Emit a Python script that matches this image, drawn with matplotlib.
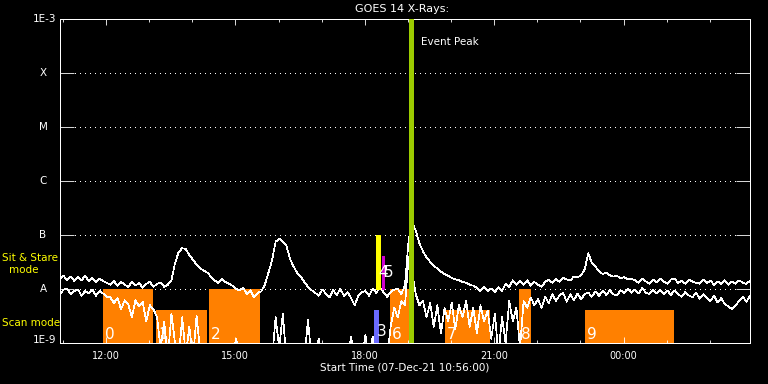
import numpy as np
import matplotlib
matplotlib.use('Agg')
from matplotlib import pyplot as plt
from matplotlib.ticker import FixedLocator, NullLocator

plt.rcParams['font.family'] = 'DejaVu Sans'
plt.rcParams['lines.antialiased'] = False
plt.rcParams['patch.antialiased'] = False

# GOES 14 flux, 5 minute samples from the start time, in units of 1e-8 W/m^2
start_time = '10:56'
long_flux = [
    1.55, 1.75, 1.45, 1.7, 1.4, 1.65, 1.45, 1.75, 1.4, 1.6,
    1.35, 1.55, 1.4, 1.3, 1.2, 1.4, 1.15, 1.35, 1.2, 1.1,
    1.35, 1.15, 1.3, 1.05, 1.25, 1.35, 1.1, 1.25, 1.3, 1.1,
    1.2, 1.45, 3.0, 4.8, 5.7, 5.5, 4.2, 3.5, 2.8, 2.4,
    2.2, 2.0, 1.7, 1.45, 1.3, 1.55, 1.35, 1.25, 1.15, 1.0,
    0.95, 1.05, 0.8, 0.95, 0.7, 0.85, 0.9, 1.2, 2.0, 3.4,
    7.5, 8.5, 7.6, 6.4, 3.6, 2.6, 2.0, 1.7, 1.35, 1.1,
    0.95, 0.85, 0.75, 0.98, 0.82, 0.7, 0.95, 0.78, 1.0, 0.75,
    0.88, 0.68, 0.5, 0.75, 0.88, 0.92, 0.75, 1.0, 0.85, 1.05,
    0.88, 0.72, 0.88, 0.98, 1.0, 0.8, 1.2, 8.0, 17.0, 12.0,
    7.0, 5.0, 3.8, 3.2, 2.7, 2.4, 2.1, 1.9, 1.75, 1.6,
    1.5, 1.45, 1.35, 1.3, 1.2, 1.15, 1.05, 0.92, 1.08, 0.92,
    1.02, 0.88, 1.08, 0.92, 1.25, 1.1, 1.45, 1.2, 1.4, 1.2,
    1.45, 1.15, 1.35, 1.2, 1.1, 1.35, 1.5, 1.3, 1.55, 1.35,
    1.6, 1.5, 1.45, 1.7, 1.65, 1.8, 2.3, 4.6, 3.0, 2.6,
    2.1, 1.9, 2.0, 1.8, 1.7, 1.75, 1.6, 1.65, 1.5, 1.55,
    1.45, 1.3, 1.55, 1.38, 1.25, 1.5, 1.32, 1.55, 1.38, 1.25,
    1.5, 1.55, 1.3, 1.42, 1.25, 1.5, 1.38, 1.3, 1.25, 1.5,
    1.3, 1.42, 1.2, 1.38, 1.25, 1.45, 1.2, 1.38, 1.25, 1.45,
    1.3, 1.25, 1.42]
short_flux = [
    0.78, 0.98, 1.02, 0.8, 0.92, 0.98, 0.75, 0.92, 0.82, 0.98,
    0.75, 0.92, 0.82, 0.72, 0.7, 0.55, 0.68, 0.42, 0.62, 0.52,
    0.3, 0.62, 0.48, 0.58, 0.25, 0.5, 0.42, 0.3, 0.08, 0.25,
    0.05, 0.35, 0.1, 0.05, 0.3, 0.06, 0.2, 0.05, 0.32, 0.07,
    0.05, 0.05, 0.05, 0.05, 0.05, 0.05, 0.05, 0.05, 0.05, 0.12,
    0.05, 0.05, 0.05, 0.05, 0.05, 0.05, 0.05, 0.05, 0.05, 0.05,
    0.3, 0.08, 0.35, 0.05, 0.05, 0.05, 0.05, 0.05, 0.05, 0.27,
    0.05, 0.05, 0.12, 0.05, 0.05, 0.05, 0.05, 0.05, 0.05, 0.05,
    0.05, 0.13, 0.05, 0.05, 0.05, 0.14, 0.05, 0.13, 0.05, 0.05,
    0.05, 0.05, 0.2, 0.45, 0.3, 0.6, 0.5, 4.0, 2.0, 0.8,
    0.5, 0.6, 0.3, 0.55, 0.2, 0.5, 0.15, 0.45, 0.25, 0.55,
    0.18, 0.5, 0.3, 0.6, 0.2, 0.45, 0.15, 0.5, 0.25, 0.4,
    0.12, 0.35, 0.06, 0.3, 0.1, 0.6, 0.25, 0.45, 0.08, 0.6,
    0.45, 0.7, 0.5, 0.65, 0.45, 0.72, 0.55, 0.8, 0.6, 0.76,
    0.85, 0.58, 0.8, 0.62, 0.82, 0.65, 0.8, 0.86, 0.72, 0.9,
    0.75, 0.92, 0.78, 0.95, 0.8, 0.76, 0.95, 0.84, 1.0, 0.85,
    0.98, 0.82, 1.04, 0.86, 0.8, 0.98, 0.82, 0.96, 0.8, 0.94,
    0.78, 0.94, 0.8, 0.72, 0.88, 0.76, 0.7, 0.86, 0.66, 0.8,
    0.68, 0.6, 0.75, 0.56, 0.68, 0.52, 0.48, 0.42, 0.5, 0.6,
    0.72, 0.58, 0.75]

class_labels = ['1E-9', 'A', 'B', 'C', 'M', 'X', '1E-3']
class_levels = [1e-9, 1e-8, 1e-7, 1e-6, 1e-5, 1e-4, 1e-3]

# observations drawn as orange blocks
obs_ids = ['0', '1', '2', '6', '7', '8', '9']
obs_start = ['11:56', '13:10', '14:23', '18:35', '19:52', '21:34', '23:07']
obs_end = ['13:06', '14:20', '15:34', '19:02', '20:54', '21:51', '01:10']
obs_top = [1e-8, 4.1e-9, 1e-8, 1e-8, 4.1e-9, 1e-8, 4.1e-9]

# short observations drawn as coloured lines
short_ids = ['3', '4', '5']
short_time = ['18:15', '18:18', '18:25']
short_bottom = [1e-9, 1e-8, 1e-8]
short_top = [4.1e-9, 1e-7, 4.1e-8]
short_color = ['#6a6aff', '#ffff00', '#d000d0']

peak_time = '19:04'
xtick_labels = ['12:00', '15:00', '18:00', '21:00', '00:00']


def hours(s):
    h, m = s.split(':')
    v = int(h) + int(m) / 60
    if v < 10:
        v += 24
    return v


t0 = hours(start_time)
times = t0 + np.arange(len(long_flux)) / 12

fig = plt.figure(figsize=(7.68, 3.84), dpi=100, facecolor='black')
ax = fig.add_axes([60 / 768, 41 / 384, 690 / 768, 324 / 384], facecolor='black')
ax.set_yscale('log')
ax.set_ylim(1e-9, 1e-3)
ax.set_xlim(t0, t0 + 16)

for s in ax.spines.values():
    s.set_color('white')
    s.set_linewidth(0.6)

# dotted class lines
for lvl in class_levels[1:-1]:
    ax.plot([15 / 690, 676 / 690], [lvl, lvl], transform=ax.get_yaxis_transform(),
            color='white', lw=0.72, linestyle=(0, (1, 5)), zorder=1)

starts = [hours(s) for s in obs_start]
ends = [hours(s) for s in obs_end]
ax.bar(starts, [top - 1e-9 for top in obs_top], width=[e - s for s, e in zip(starts, ends)],
       bottom=1e-9, align='edge', color='#ff8000', zorder=1)

ax.plot(times, np.array(long_flux) * 1e-8, color='white', lw=0.5, zorder=2)
ax.plot(times, np.array(short_flux) * 1e-8, color='white', lw=0.5, zorder=2)

st = [hours(s) for s in short_time]
ax.vlines(st, short_bottom, short_top, colors=short_color, linewidth=[2.2, 2.2, 0.9], zorder=3)
peak = hours(peak_time)
ax.axvline(peak, color='#9ccc00', lw=2.2, zorder=3)

for lab, s in zip(obs_ids, starts):
    ax.annotate(lab, (s, 1e-9), xytext=(2, 1), textcoords='offset pixels', color='white',
                fontsize=11, ha='left', va='bottom', zorder=4)
for lab, s, b in zip(short_ids, st, short_bottom):
    dy = 4 if b < 1e-8 else 9
    ax.annotate(lab, (s, b), xytext=(1, dy), textcoords='offset pixels', color='white',
                fontsize=11, ha='left', va='bottom', zorder=4)

ax.annotate('Event Peak', (peak, 1e-3), xytext=(10, -23), textcoords='offset pixels',
            color='white', fontsize=7.5, ha='left', va='center')

ax.xaxis.set_major_locator(FixedLocator([12, 15, 18, 21, 24]))
ax.set_xticklabels(xtick_labels)
ax.xaxis.set_minor_locator(FixedLocator(np.arange(11, 27)))
ax.yaxis.set_major_locator(FixedLocator(class_levels))
ax.yaxis.set_minor_locator(NullLocator())
ax.tick_params(axis='x', which='major', direction='in', length=4.3, width=0.6,
               colors='white', top=True, bottom=True, labelsize=7, pad=6)
ax.tick_params(axis='x', which='minor', direction='in', length=2.2, width=0.6,
               colors='white', top=True, bottom=True)
ax.tick_params(axis='y', which='major', direction='in', length=10.1, width=0.6,
               colors='white', left=True, right=True, labelleft=False)

ytr = ax.get_yaxis_transform()
for lab, lvl in zip(class_labels, class_levels):
    if lab.startswith('1E'):
        dy = 3 if lvl < 1e-8 else 0
        ax.annotate(lab, (0, lvl), xycoords=ytr, xytext=(-4, dy), textcoords='offset pixels',
                    color='white', fontsize=7.5, ha='right', va='center')
    else:
        ax.annotate(lab, (0, lvl), xycoords=ytr, xytext=(-17, 0), textcoords='offset pixels',
                    color='white', fontsize=7.5, ha='center', va='center')

fig.text(2 / 768, 1 - 258 / 384, 'Sit & Stare', color='#ffff00', fontsize=7.5, ha='left', va='center')
fig.text(24 / 768, 1 - 270 / 384, 'mode', color='#ffff00', fontsize=7.5, ha='center', va='center')
fig.text(2 / 768, 1 - 323 / 384, 'Scan mode', color='#ffff00', fontsize=7.5, ha='left', va='center')

fig.text(402 / 768, 1 - 9 / 384, 'GOES 14 X-Rays:', color='white', fontsize=8, ha='center', va='center')
fig.text(405 / 768, 1 - 368 / 384, 'Start Time (07-Dec-21 10:56:00)', color='white',
         fontsize=7.5, ha='center', va='center')

fig.savefig('out.png', dpi=100, facecolor='black')
